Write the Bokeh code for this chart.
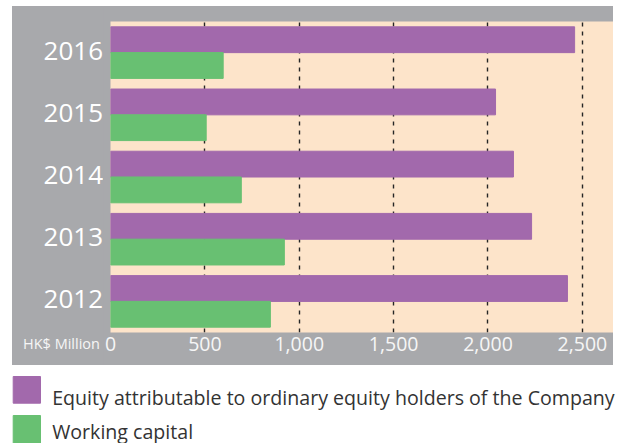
from bokeh.plotting import figure
from bokeh.models import (ColumnDataSource, FactorRange, Range1d, FixedTicker,
                          Spacer, NumeralTickFormatter)
from bokeh.transform import dodge
from bokeh.layouts import column, row
from bokeh.core.properties import value
from bokeh.embed import file_html
from bokeh.resources import INLINE

# ---- data ----
years = ["2012", "2013", "2014", "2015", "2016"]
equity = [2421, 2231, 2135, 2040, 2459]
working_capital = [847, 921, 693, 507, 597]
series_names = ["Equity attributable to ordinary equity holders of the Company",
                "Working capital"]
x_ticks = [0, 500, 1000, 1500, 2000, 2500]
unit_label = "HK$ Million"

# ---- styles ----
PURPLE = "#A269AC"
GREEN = "#68C072"
PEACH = "#FDE4CA"
GREY = "#A8A9AC"
FONT = "Open Sans"
TOP_B, BOT_B = 15, 33

src = ColumnDataSource(dict(year=years, equity=equity, wc=working_capital))
yr = FactorRange(factors=years, range_padding=0)

# ---- main chart ----
p = figure(width=510, height=359, y_range=yr, x_range=Range1d(0, 2665),
           y_axis_location=None,
           output_backend="svg", toolbar_location=None,
           min_border_left=7, min_border_right=0,
           min_border_top=TOP_B, min_border_bottom=BOT_B)
p.border_fill_color = GREY
p.background_fill_color = PEACH
p.outline_line_color = None

p.hbar(y=dodge("year", 0.207, range=yr), left=0, right="equity",
       height=0.415, color=PURPLE, source=src)
p.hbar(y=dodge("year", -0.207, range=yr), left=0, right="wc",
       height=0.415, color=GREEN, source=src)

p.xaxis.ticker = FixedTicker(ticks=x_ticks)
p.xaxis.formatter = NumeralTickFormatter(format="0,0")
p.xaxis.axis_line_color = None
p.xaxis.major_tick_line_color = None
p.xaxis.minor_tick_line_color = None
p.xaxis.major_tick_out = 0
p.xaxis.major_tick_in = 0
p.xaxis.major_label_text_color = "#F6F6F6"
p.xaxis.major_label_text_font = FONT
p.xaxis.major_label_text_font_size = "19.5px"
p.xaxis.major_label_standoff = 4

p.ygrid.grid_line_color = None
p.xgrid.ticker = FixedTicker(ticks=x_ticks[1:])
p.xgrid.grid_line_color = "#262626"
p.xgrid.grid_line_dash = "4 5"
p.xgrid.grid_line_width = 1.4

# ---- left strip: year labels and unit ----
lf = figure(width=91, height=359, y_range=yr, x_range=Range1d(0, 91),
            y_axis_location=None,
            output_backend="svg", toolbar_location=None,
            min_border_left=0, min_border_right=0,
            min_border_top=TOP_B, min_border_bottom=BOT_B)
lf.border_fill_color = GREY
lf.background_fill_alpha = 0
lf.outline_line_color = None
lf.grid.visible = False
lf.text(x=90.5, y=years, text=years, text_align="right", text_baseline="middle",
        y_offset=-2, text_font=value(FONT), text_font_size="26px",
        text_color="#FFFFFF")
lf.xaxis.ticker = FixedTicker(ticks=[49])
lf.xaxis.major_label_overrides = {49: unit_label}
lf.xaxis.axis_line_color = None
lf.xaxis.major_tick_line_color = None
lf.xaxis.minor_tick_line_color = None
lf.xaxis.major_tick_out = 0
lf.xaxis.major_tick_in = 0
lf.xaxis.major_label_text_color = "#F6F6F6"
lf.xaxis.major_label_text_font = FONT
lf.xaxis.major_label_text_font_size = "14.5px"
lf.xaxis.major_label_standoff = 1

# ---- legend panel ----
leg = figure(width=622, height=78, x_range=Range1d(0, 622), y_range=Range1d(78, 0),
             output_backend="svg", toolbar_location=None, min_border=0)
leg.axis.visible = False
leg.grid.visible = False
leg.outline_line_color = None
leg.background_fill_color = "white"
leg.border_fill_color = "white"

sq_left = [12.7, 12.7]
sq_right = [40, 40]
sq_top = [11, 50]
sq_bottom = [37.7, 78]
txt_x = [51.7, 51.7]
txt_y = [32.3, 66]
leg.quad(left=sq_left, right=sq_right, top=sq_top, bottom=sq_bottom,
         color=[PURPLE, GREEN])
leg.text(x=txt_x, y=txt_y, text=series_names, text_baseline="alphabetic",
         text_font=value(FONT), text_font_size="19.6px", text_color="#333333")

chart_row = row(Spacer(width=12), lf, p)
chart_row.styles = {"background": "linear-gradient(to right, white 12px, %s 12px)" % GREY}

layout = column(Spacer(height=6), chart_row, leg)

open("out.html", "w").write(file_html(layout, INLINE))
